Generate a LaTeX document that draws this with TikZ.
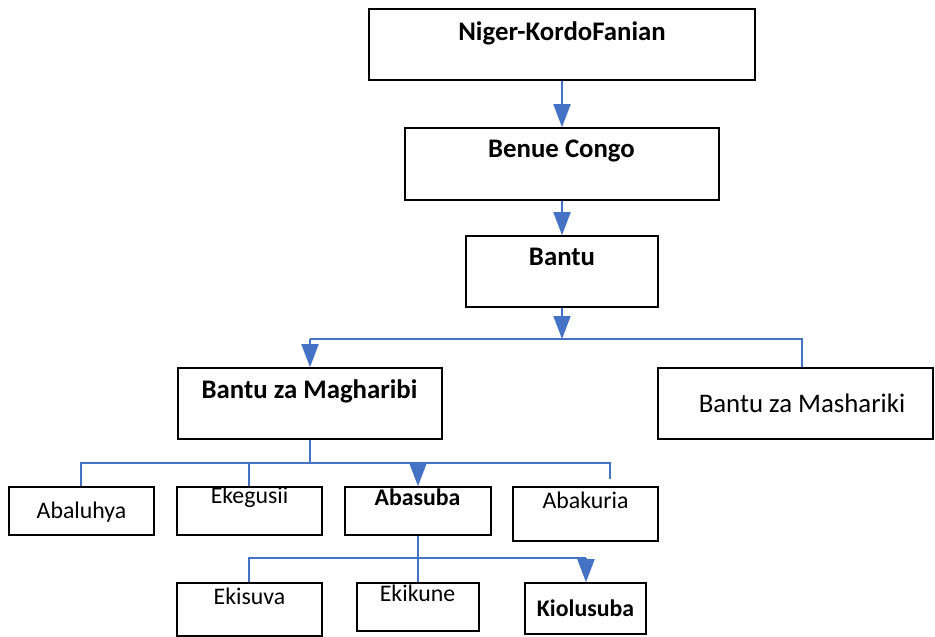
\documentclass[tikz,border=0pt]{standalone}
\usepackage{fontspec}
\setmainfont{Carlito}
\usetikzlibrary{arrows.meta}
\definecolor{linkblue}{HTML}{4472C4}
\begin{document}
\begin{tikzpicture}[x=1pt,y=-1pt,
  box/.style={draw=black,line width=1.6pt,rectangle,inner sep=0pt},
  lbl/.style={font=\fontsize{23.8}{28}\selectfont,inner sep=0pt,anchor=center},
  blbl/.style={lbl,font=\fontsize{23.8}{28}\selectfont\bfseries},
  biglbl/.style={lbl,font=\fontsize{26.8}{31}\selectfont},
  bigblbl/.style={lbl,font=\fontsize{26.8}{31}\selectfont\bfseries},
  link/.style={draw=linkblue,line width=1.8pt},
  arr/.style={link,-{Triangle[length=23pt,width=17pt]}}]
\useasboundingbox[fill=white] (0,0) rectangle (935,637);

% boxes
\node[box,minimum width=386pt,minimum height=71pt] (nk) at (562,44.5) {};
\node[box,minimum width=314pt,minimum height=72pt] (bc) at (562,164) {};
\node[box,minimum width=192pt,minimum height=71pt] (ba) at (562,271.5) {};
\node[box,minimum width=264pt,minimum height=71pt] (mag) at (310,403.5) {};
\node[box,minimum width=275pt,minimum height=71pt] (mas) at (795.5,403.5) {};
\node[box,minimum width=145pt,minimum height=48pt] (alu) at (81.5,511) {};
\node[box,minimum width=145pt,minimum height=48pt] (eke) at (249.5,511) {};
\node[box,minimum width=146pt,minimum height=48pt] (abs) at (418,511) {};
\node[box,minimum width=145pt,minimum height=54pt] (aku) at (585.5,514) {};
\node[box,minimum width=145pt,minimum height=53pt] (eki) at (249.5,609.5) {};
\node[box,minimum width=122pt,minimum height=48pt] (ekk) at (418,607) {};
\node[box,minimum width=121pt,minimum height=51pt] (kio) at (585.5,608.5) {};

% labels
\node[bigblbl] (tnk) at (562,33) {Niger-KordoFanian};
\node[bigblbl] (tbc) at (561.5,151) {Benue Congo};
\node[bigblbl] (tba) at (562,257) {Bantu};
\node[bigblbl] (tmag) at (309.5,391) {Bantu za Magharibi};
\node[biglbl] (tmas) at (802,403) {Bantu za Mashariki};
\node[lbl] (talu) at (81.5,512) {Abaluhya};
\node[lbl] (teke) at (249.5,497) {Ekegusii};
\node[blbl] (tabs) at (417.5,497) {Abasuba};
\node[lbl] (taku) at (585.5,500) {Abakuria};
\node[lbl] (teki) at (249.5,596) {Ekisuva};
\node[lbl] (tekk) at (417.5,593) {Ekikune};
\node[blbl] (tkio) at (585.5,608) {Kiolusuba};

% junction points
\coordinate (j1) at (562,339);
\coordinate (j1l) at (310,339);
\coordinate (j1r) at (802,339);
\coordinate (j2) at (310,463);
\coordinate (j2l) at (81,463);
\coordinate (j2a) at (249,463);
\coordinate (j2b) at (418,463);
\coordinate (j2r) at (610,463);
\coordinate (j2e) at (610,479);
\coordinate (j3) at (418,558);
\coordinate (j3l) at (249,558);
\coordinate (j3r) at (586,558);

% connectors
\draw[arr] (nk.south) -- (bc.north);
\draw[arr] (bc.south) -- (ba.north);
\draw[arr] (ba.south) -- (j1);
\draw[link] (j1l) -- (j1r) -- (j1r |- mas.north);
\draw[arr] (j1l) -- (j1l |- mag.north);

\draw[link] (mag.south) -- (j2);
\draw[link] (j2l |- alu.north) -- (j2l) -- (j2r) -- (j2e);
\draw[link] (j2a) -- (j2a |- eke.north);
\draw[arr] (j2b) -- (j2b |- abs.north);

\draw[link] (abs.south) -- (j3);
\draw[link] (j3l |- eki.north) -- (j3l) -- (j3r);
\draw[link] (j3) -- (j3 |- ekk.north);
\draw[arr] (j3r) -- (j3r |- kio.north);
\end{tikzpicture}
\end{document}
